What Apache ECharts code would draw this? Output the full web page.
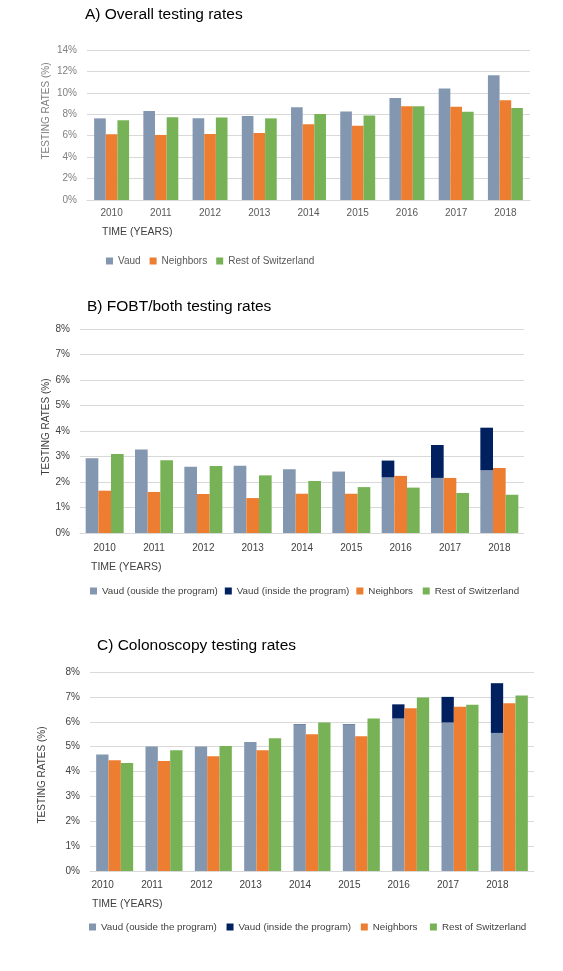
<!DOCTYPE html>
<html>
<head>
<meta charset="utf-8">
<script src="https://cdn.jsdelivr.net/npm/echarts@6/dist/echarts.min.js"></script>
<style>
html,body{margin:0;padding:0;background:#fff;}
#c{width:563px;height:971px;}
</style>
</head>
<body>
<div id="c"></div>
<script>
// ---- data ----
var years = ['2010','2011','2012','2013','2014','2015','2016','2017','2018'];

// A) Overall testing rates (%)
var aVaud = [7.62, 8.31, 7.62, 7.84, 8.65, 8.27, 9.52, 10.40, 11.65];
var aNeighbors = [6.13, 6.07, 6.16, 6.25, 7.06, 6.92, 8.74, 8.71, 9.30];
var aRest = [7.44, 7.72, 7.69, 7.62, 8.03, 7.89, 8.74, 8.24, 8.58];
var aTicks = [0, 14, 2];

// B) FOBT/both testing rates (%)
var bVaudOut = [2.93, 3.27, 2.60, 2.64, 2.50, 2.41, 2.18, 2.16, 2.46];
var bVaudIn = [0, 0, 0, 0, 0, 0, 0.66, 1.29, 1.67];
var bNeighbors = [1.66, 1.61, 1.53, 1.37, 1.54, 1.54, 2.24, 2.16, 2.55];
var bRest = [3.10, 2.85, 2.63, 2.26, 2.04, 1.80, 1.78, 1.57, 1.50];
var bTicks = [0, 8, 1];

// C) Colonoscopy testing rates (%)
var cVaudOut = [4.68, 5.01, 5.01, 5.19, 5.88, 5.88, 6.13, 5.97, 5.55];
var cVaudIn = [0, 0, 0, 0, 0.02, 0.02, 0.57, 1.03, 2.00];
var cNeighbors = [4.45, 4.42, 4.61, 4.85, 5.50, 5.42, 6.54, 6.60, 6.74];
var cRest = [4.34, 4.85, 5.03, 5.34, 5.97, 6.13, 6.97, 6.68, 7.06];
var cTicks = [0, 8, 1];

// ---- styling ----
var GRAY = '#8497B0', NAVY = '#002060', ORANGE = '#ED7D31', GREEN = '#77B356';
var FONT = '"Liberation Sans", Arial, sans-serif';
var DARK = '#404040';

var chart = echarts.init(document.getElementById('c'), null, {renderer: 'canvas'});

function yAxis(gi, t, color) {
  return {
    type: 'value', gridIndex: gi, min: t[0], max: t[1], interval: t[2],
    axisLabel: {formatter: '{value}%', color: color, fontSize: 10, fontFamily: FONT, margin: 10},
    axisLine: {show: false}, axisTick: {show: false},
    splitLine: {lineStyle: {color: '#d9d9d9', width: 1}}
  };
}
function xAxis(gi, color, margin, pad) {
  return {
    type: 'category', gridIndex: gi, data: years,
    axisLabel: {color: color, fontSize: 10, fontFamily: FONT, margin: margin, padding: pad, interval: 0},
    axisLine: {lineStyle: {color: '#d9d9d9'}}, axisTick: {show: false}
  };
}
function bar(name, data, gi, color, gap, stack) {
  var s = {
    name: name, type: 'bar', data: data, xAxisIndex: gi, yAxisIndex: gi,
    itemStyle: {color: color}, barGap: '0%', barCategoryGap: gap,
    emphasis: {disabled: true}
  };
  if (stack) s.stack = stack;
  return s;
}
function legend(names, left, top, color, gap, size) {
  return {
    data: names, left: left, top: top, icon: 'rect', itemWidth: 7, itemHeight: 7,
    itemGap: gap, padding: 0, selectedMode: false,
    textStyle: {color: color, fontSize: size, fontFamily: FONT}
  };
}
function txt(text, x, y, opts) {
  var o = opts || {};
  return {
    type: 'text', x: x, y: y, rotation: o.rot || 0,
    style: {text: text, fill: o.color || DARK, fontSize: o.size || 10, fontFamily: FONT,
            align: o.align || 'left', verticalAlign: 'middle'}
  };
}

var titleStyle = {fontSize: 15.5, fontWeight: 'normal', color: '#000', fontFamily: FONT};

var option = {
  animation: false,
  backgroundColor: '#fff',
  title: [
    {text: 'A) Overall testing rates', left: 85, top: 7, padding: 0, textStyle: titleStyle},
    {text: 'B) FOBT/both testing rates', left: 87, top: 299, padding: 0, textStyle: titleStyle},
    {text: 'C) Colonoscopy testing rates', left: 97, top: 638, padding: 0, textStyle: titleStyle}
  ],
  grid: [
    {left: 87, top: 50, width: 443, height: 150},
    {left: 80, top: 329, width: 444, height: 204},
    {left: 90, top: 672, width: 444, height: 199}
  ],
  xAxis: [
    xAxis(0, '#595959', 8, [0, 0, 0, 0]),
    xAxis(1, DARK, 10, [0, 0, 0, 0]),
    xAxis(2, DARK, 9, [0, 24, 0, 0])
  ],
  yAxis: [
    yAxis(0, aTicks, '#808080'),
    yAxis(1, bTicks, DARK),
    yAxis(2, cTicks, DARK)
  ],
  legend: [
    legend(['Vaud', 'Neighbors', 'Rest of Switzerland'], 106, 256, '#595959', 9, 10),
    legend(['Vaud (ouside the program)', 'Vaud (inside the program)', 'Neighbors ', 'Rest of Switzerland '], 90, 586, DARK, 7, 9.8),
    legend(['Vaud (ouside the program) ', 'Vaud (inside the program) ', 'Neighbors  ', 'Rest of Switzerland  '], 89, 922, DARK, 7, 9.8)
  ],
  series: [
    bar('Vaud', aVaud, 0, GRAY, '29%'),
    bar('Neighbors', aNeighbors, 0, ORANGE, '29%'),
    bar('Rest of Switzerland', aRest, 0, GREEN, '29%'),

    bar('Vaud (ouside the program)', bVaudOut, 1, GRAY, '23%', 'vb'),
    bar('Vaud (inside the program)', bVaudIn, 1, NAVY, '23%', 'vb'),
    bar('Neighbors ', bNeighbors, 1, ORANGE, '23%'),
    bar('Rest of Switzerland ', bRest, 1, GREEN, '23%'),

    bar('Vaud (ouside the program) ', cVaudOut, 2, GRAY, '25%', 'vc'),
    bar('Vaud (inside the program) ', cVaudIn, 2, NAVY, '25%', 'vc'),
    bar('Neighbors  ', cNeighbors, 2, ORANGE, '25%'),
    bar('Rest of Switzerland  ', cRest, 2, GREEN, '25%')
  ],
  graphic: [
    txt('TESTING RATES (%)', 46, 111, {rot: Math.PI / 2, align: 'center', color: '#808080'}),
    txt('TIME (YEARS)', 102, 232, {color: DARK, size: 10.5}),
    txt('TESTING RATES (%)', 46, 427, {rot: Math.PI / 2, align: 'center'}),
    txt('TIME (YEARS)', 91, 567, {color: DARK, size: 10.5}),
    txt('TESTING RATES (%)', 42, 775, {rot: Math.PI / 2, align: 'center'}),
    txt('TIME (YEARS)', 92, 904, {color: DARK, size: 10.5})
  ]
};
chart.setOption(option);
</script>
</body>
</html>
